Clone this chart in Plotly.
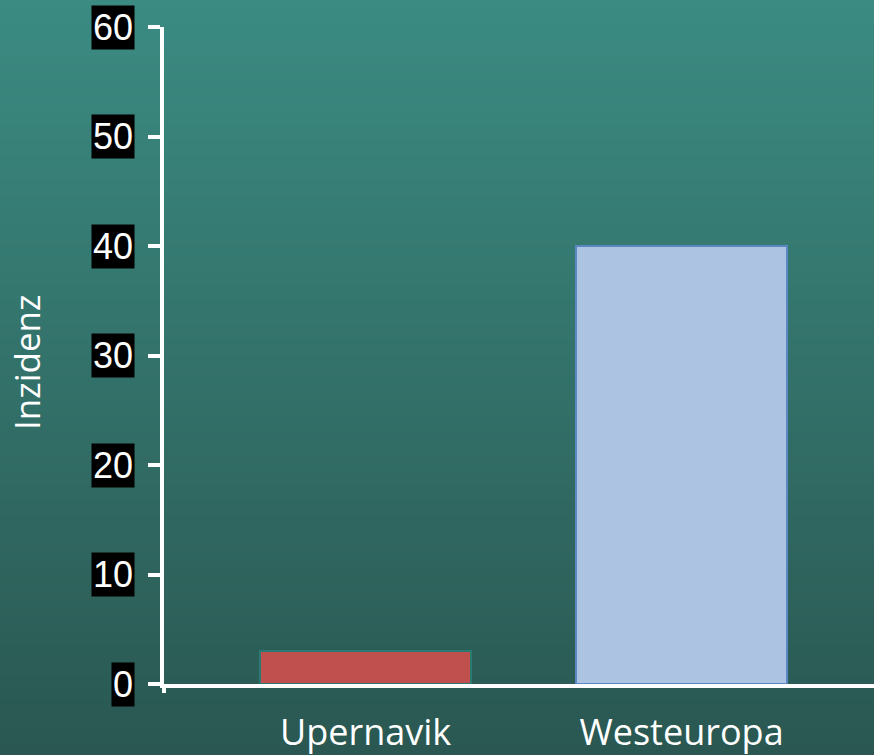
import plotly.graph_objects as go

categories = ["Upernavik", "Westeuropa"]
values = [3, 40]
bar_colors = ["#c0504d", "#adc3e2"]
line_colors = ["#2a7a74", "#5b87c2"]
y_ticks = [0, 10, 20, 30, 40, 50, 60]

W, H = 874, 755
L, T, B, R = 164, 27, 71, 0
plot_h = H - T - B

fig = go.Figure()
fig.add_trace(go.Bar(
    x=categories, y=values, width=0.668,
    marker=dict(color=bar_colors, line=dict(color=line_colors, width=2)),
    showlegend=False,
))

# background gradient strips
top = (59, 139, 130)
bot = (42, 87, 81)
n = 151
shapes = []
for i in range(n):
    f = i / (n - 1)
    c = tuple(round(top[k] + (bot[k] - top[k]) * f) for k in range(3))
    py0 = i * H / n
    py1 = (i + 1) * H / n + 1
    shapes.append(dict(
        type="rect", xref="paper", yref="paper", layer="below",
        x0=-L / (W - L - R), x1=1.01,
        y0=1 - (py0 - T) / plot_h, y1=1 - (py1 - T) / plot_h,
        fillcolor="rgb(%d,%d,%d)" % c, line=dict(width=0),
    ))
# y axis line extension below the x axis
shapes.append(dict(type="line", xref="paper", yref="paper", x0=0, x1=0,
                   y0=0, y1=-9 / plot_h, line=dict(color="white", width=4)))

annotations = []
for v in y_ticks:
    annotations.append(dict(
        x=0, xref="paper", xanchor="right", xshift=-29,
        y=v, yref="y", yanchor="middle",
        text=str(v), showarrow=False,
        font=dict(family="Liberation Sans, Arial", size=36, color="white"),
        bgcolor="black", borderpad=1,
    ))
annotations.append(dict(
    x=0, xref="paper", xanchor="center", xshift=-138,
    y=(684 - 363) / plot_h, yref="paper", yanchor="middle",
    text="Inzidenz", textangle=-90, showarrow=False,
    font=dict(family="Open Sans", size=35, color="white"),
))

fig.update_layout(
    width=W, height=H,
    margin=dict(l=L, r=R, t=T, b=B, pad=0),
    paper_bgcolor="#326f68", plot_bgcolor="rgba(0,0,0,0)",
    shapes=shapes, annotations=annotations,
    bargap=0,
    xaxis=dict(range=[-0.638, 1.609], showline=True, linecolor="white",
               linewidth=4, ticks="", showgrid=False, zeroline=False,
               ticklabelstandoff=14,
               tickfont=dict(family="Open Sans", size=36, color="white"),
               fixedrange=True),
    yaxis=dict(range=[0, 60], showline=True, linecolor="white", linewidth=4,
               ticks="outside", ticklen=12, tickwidth=4, tickcolor="white",
               tickvals=y_ticks, showticklabels=False, showgrid=False,
               zeroline=False, fixedrange=True),
)

fig.write_html("out.html", config={"displayModeBar": False},
               post_script="document.body.style.margin='0';")
